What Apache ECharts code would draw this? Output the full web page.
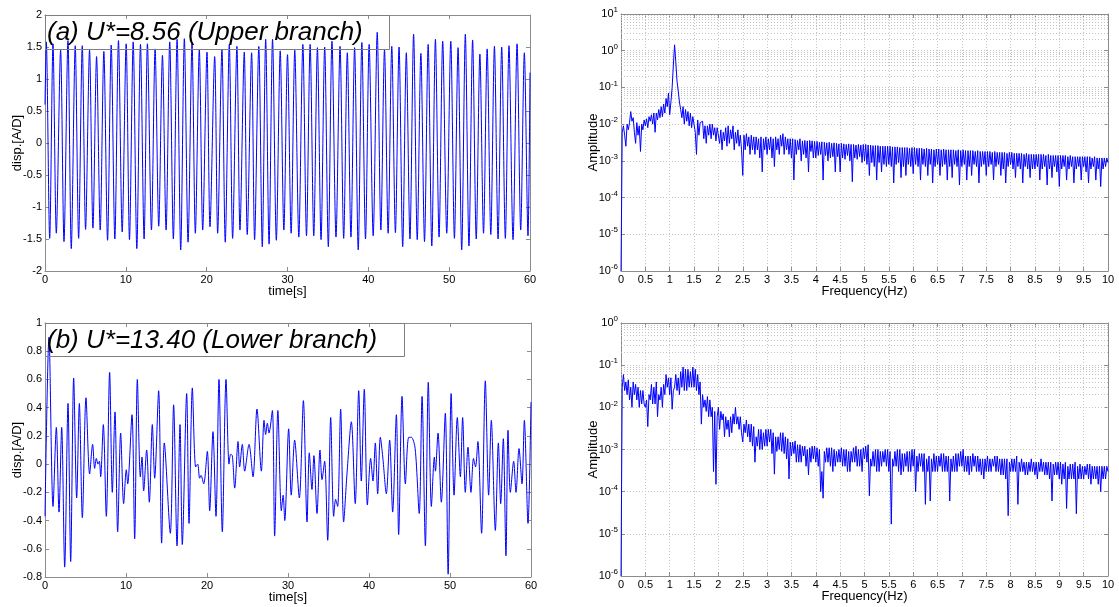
<!DOCTYPE html>
<html>
<head>
<meta charset="utf-8">
<script src="https://cdn.jsdelivr.net/npm/echarts@6/dist/echarts.min.js"></script>
<style>
html,body{margin:0;padding:0;background:#fff;}
#chart{width:1119px;height:607px;}
</style>
</head>
<body>
<div id="chart"></div>
<script>
// ---------- DATA ----------
// (a) U*=8.56 time history: peaks, troughs and the two end samples
const aPeakTime = [0.16,0.99,1.93,2.84,3.74,4.61,5.51,6.38,7.28,8.19,9.09,10.04,10.91,11.81,12.67,13.62,14.53,15.43,16.34,17.24,18.19,19.09,20.04,20.99,21.89,22.80,23.74,24.65,25.56,26.45,27.30,28.15,29.10,30.00,30.90,31.90,32.80,33.70,34.60,35.50,36.50,37.40,38.30,39.20,40.10,41.10,42.00,42.90,43.80,44.70,45.60,46.50,47.40,48.30,49.20,50.20,51.10,52.00,52.90,53.80,54.70,55.60,56.50,57.40,58.40,59.30];
const aPeakDisp = [1.58,1.55,1.45,1.60,1.52,1.52,1.45,1.35,1.43,1.53,1.60,1.55,1.58,1.54,1.55,1.47,1.37,1.58,1.62,1.63,1.55,1.46,1.42,1.35,1.46,1.54,1.51,1.42,1.41,1.51,1.62,1.62,1.44,1.38,1.45,1.54,1.54,1.49,1.50,1.59,1.51,1.41,1.49,1.57,1.54,1.73,1.46,1.51,1.50,1.41,1.70,1.40,1.54,1.62,1.59,1.59,1.49,1.70,1.61,1.39,1.47,1.51,1.50,1.52,1.55,1.41];
const aTroughTime = [0.58,1.40,2.35,3.25,4.16,5.02,5.93,6.83,7.74,8.64,9.55,10.45,11.36,12.26,13.17,14.07,14.98,15.88,16.79,17.70,18.60,19.51,20.41,21.36,22.30,23.21,24.12,25.02,25.93,26.88,27.72,28.62,29.55,30.45,31.40,32.35,33.25,34.15,35.05,36.00,36.95,37.85,38.75,39.65,40.60,41.55,42.45,43.35,44.25,45.15,46.05,46.95,47.85,48.75,49.70,50.65,51.55,52.45,53.35,54.25,55.15,56.05,56.95,57.90,58.85,59.75];
const aTroughDisp = [-1.49,-1.41,-1.54,-1.65,-1.49,-1.35,-1.33,-1.36,-1.52,-1.50,-1.39,-1.51,-1.65,-1.50,-1.36,-1.30,-1.36,-1.50,-1.67,-1.55,-1.41,-1.36,-1.31,-1.41,-1.55,-1.49,-1.36,-1.43,-1.51,-1.62,-1.58,-1.52,-1.36,-1.41,-1.47,-1.45,-1.45,-1.51,-1.62,-1.47,-1.49,-1.47,-1.67,-1.50,-1.45,-1.36,-1.41,-1.40,-1.62,-1.50,-1.51,-1.54,-1.61,-1.47,-1.41,-1.49,-1.67,-1.61,-1.50,-1.41,-1.43,-1.50,-1.49,-1.51,-1.36,-1.45];
const aEdgeTime = [0, 60];
const aEdgeDisp = [0.6, 1.1];

// (b) U*=13.40 time history (turning points)
const bTime = [0,0.49,0.99,1.40,1.73,2.06,2.43,2.84,3.17,3.54,3.91,4.24,4.61,5.06,5.51,5.88,6.13,6.34,6.54,6.71,6.87,7.20,7.57,7.98,8.31,8.64,8.97,9.34,9.71,10.04,10.21,10.74,11.07,11.40,11.77,11.98,12.18,12.55,12.88,13.25,13.54,14.03,14.40,14.73,15.47,15.88,16.30,16.67,16.95,17.49,17.78,18.19,18.60,18.85,19.09,19.26,19.59,20.04,20.33,20.74,21.11,21.48,21.89,22.35,22.72,22.92,23.13,23.42,23.83,24.03,24.36,24.65,25.19,25.68,26.17,26.71,27.04,27.24,27.45,27.65,28.07,28.35,28.75,29.18,29.40,29.60,30.08,30.40,30.82,31.40,31.90,32.35,32.63,32.96,33.20,33.58,33.95,34.20,34.52,34.90,35.27,35.64,35.88,36.13,36.50,36.87,37.28,37.82,38.30,38.73,39.05,39.42,39.80,40.20,40.49,40.78,41.07,41.40,41.70,42.14,42.55,42.92,43.38,43.66,44.08,44.49,44.90,45.23,45.70,46.20,46.55,46.96,47.32,47.70,48.07,48.20,48.52,48.93,49.42,49.77,50.14,50.50,50.90,51.28,51.56,51.89,52.22,52.59,52.90,53.15,53.44,53.90,54.36,54.77,55.10,55.60,55.97,56.26,56.58,56.91,57.16,57.45,57.86,58.15,58.52,58.89,59.18,59.63,60.00];
const bDisp = [-0.37,0.90,-0.30,0.26,-0.34,0.26,-0.73,0.43,-0.69,0.61,-0.24,0.43,-0.38,0.47,-0.07,0.14,-0.03,0.04,0.00,0.02,-0.09,0.28,-0.37,0.65,-0.20,0.37,-0.48,0.22,-0.28,-0.04,-0.14,0.35,-0.53,0.60,-0.09,0.05,-0.19,0.10,-0.27,0.28,-0.10,0.52,-0.56,0.15,-0.49,0.42,-0.58,0.28,-0.57,0.50,-0.42,0.54,-0.02,0.00,-0.10,-0.08,-0.14,0.09,-0.33,0.23,-0.37,0.60,-0.48,0.60,0.00,0.07,0.06,-0.17,0.16,-0.02,0.14,-0.05,0.14,-0.09,0.39,-0.05,0.31,0.21,0.29,0.22,0.38,-0.51,0.38,-0.33,-0.22,-0.40,0.25,-0.22,0.17,-0.24,0.45,-0.41,0.08,-0.18,0.06,-0.35,0.10,-0.11,0.02,-0.54,0.33,-0.37,-0.25,-0.30,0.39,-0.41,-0.07,0.30,-0.28,0.52,-0.12,0.53,-0.29,0.04,-0.12,0.15,-0.21,0.19,0.05,-0.21,0.17,-0.34,0.35,-0.50,0.48,-0.14,0.19,0.19,0.11,-0.35,0.48,-0.58,0.58,-0.30,0.05,-0.05,0.22,-0.27,0.36,-0.78,0.50,-0.22,0.33,-0.09,0.33,-0.20,0.12,-0.20,0.04,-0.02,0.16,-0.49,0.59,-0.22,0.31,-0.47,0.15,-0.28,0.18,-0.65,0.24,-0.20,0.02,-0.20,0.11,-0.14,0.31,-0.42,0.44];

// Amplitude spectra, one value per frequency bin (20 bins per 0.5 Hz row)
const specStepHz = 0.025;
const ampA = [
 1e-6,6e-3,9e-3,5e-3,2.5e-3,1e-2,7e-3,1.1e-2,2.2e-2,1.2e-2,1.5e-2,6e-3,3e-3,1.1e-2,5e-3,9e-3,1.8e-3,1e-2,7e-3,1.3e-2,
 9e-3,1.4e-2,8e-3,1.6e-2,1.2e-2,1.8e-2,1e-2,2e-2,6e-3,2e-2,1.3e-2,2.5e-2,1.5e-2,3e-2,1.6e-2,3.5e-2,2e-2,5e-2,3e-2,7e-2,
 1.8e-2,4e-2,1e-1,4e-1,1.45,5e-1,1.5e-1,8e-2,4e-2,2.5e-2,1.5e-2,3e-2,1e-2,2.5e-2,1.2e-2,2.2e-2,9e-3,2e-2,8e-3,1.6e-2,
 1.5e-2,6e-3,1.5e-3,1.3e-2,5e-3,1.1e-2,1e-2,1.2e-2,4e-3,9e-3,3e-3,9e-3,5e-3,1e-2,4e-3,1e-2,5e-3,8e-3,3.5e-3,8e-3,
 8e-3,3e-3,7e-3,2e-3,6e-3,3.5e-3,8e-3,2.5e-3,9e-3,3e-3,7e-3,4e-3,9e-3,2e-3,6e-3,3e-3,7e-3,2.5e-3,5e-3,2e-3,
 4e-4,5e-3,2e-3,5.5e-3,2.5e-3,4.5e-3,1.5e-3,5e-3,2e-3,4.5e-3,1.5e-3,4.5e-3,2e-3,4e-3,1.2e-3,4.5e-3,5e-4,4e-3,2e-3,4.5e-3,
 1.5e-3,4e-3,2e-3,4.5e-3,1.2e-3,4e-3,7e-4,4.5e-3,2e-3,4e-3,1.5e-3,5e-3,2.5e-3,5.5e-3,1.5e-3,4.5e-3,2e-3,4e-3,1.5e-3,4e-3,
 1.2e-3,4e-3,3e-4,3.8e-3,1.5e-3,3.6e-3,2e-3,4e-3,1e-3,3.5e-3,1.5e-3,3.6e-3,1.2e-3,3.5e-3,5e-4,3.6e-3,1.8e-3,3.5e-3,1.2e-3,3.4e-3,
 1.2e-3,3.4e-3,1.4e-3,3.2e-3,1.5e-3,3.3e-3,3e-4,3.2e-3,1.4e-3,3.1e-3,1e-3,3.2e-3,1.2e-3,3e-3,1.3e-3,3.1e-3,5e-4,3e-3,1.3e-3,2.9e-3,
 5e-4,3e-3,1.2e-3,2.9e-3,1.1e-3,2.8e-3,1.4e-3,2.9e-3,1e-3,2.8e-3,2.7e-4,2.8e-3,1.2e-3,2.7e-3,1.1e-3,2.8e-3,1.3e-3,2.7e-3,9e-4,2.8e-3,
 1e-3,2.8e-3,8e-4,2.7e-3,4e-4,2.7e-3,9e-4,2.6e-3,7e-4,2.6e-3,3e-4,2.6e-3,9e-4,2.5e-3,5e-4,2.5e-3,8e-4,2.5e-3,7e-4,2.5e-3,
 8e-4,2.5e-3,7e-4,2.4e-3,2.5e-4,2.4e-3,8e-4,2.4e-3,9e-4,2.3e-3,3.5e-4,2.3e-3,7e-4,2.3e-3,4e-4,2.3e-3,8e-4,2.2e-3,7e-4,2.3e-3,
 4.5e-4,2.3e-3,8e-4,2.2e-3,7e-4,2.2e-3,3e-4,2.2e-3,8e-4,2.1e-3,7e-4,2.2e-3,4e-4,2.1e-3,8e-4,2.1e-3,2.5e-4,2e-3,7e-4,2.1e-3,
 8e-4,2.1e-3,4e-4,2e-3,7e-4,2.1e-3,8e-4,2e-3,3e-4,2e-3,7e-4,2e-3,3.5e-4,2e-3,8e-4,1.9e-3,7e-4,2e-3,2.2e-4,1.9e-3,
 7e-4,2e-3,8e-4,1.9e-3,3e-4,1.9e-3,7e-4,1.9e-3,4e-4,1.9e-3,8e-4,1.8e-3,7e-4,1.9e-3,2.5e-4,1.8e-3,7e-4,1.8e-3,8e-4,1.8e-3,
 4e-4,1.8e-3,7e-4,1.8e-3,8e-4,1.7e-3,3e-4,1.8e-3,7e-4,1.7e-3,8e-4,1.7e-3,4e-4,1.7e-3,6e-4,1.7e-3,2.5e-4,1.6e-3,7e-4,1.7e-3,
 8e-4,1.7e-3,6e-4,1.6e-3,3.5e-4,1.6e-3,7e-4,1.6e-3,6e-4,1.6e-3,2.5e-4,1.5e-3,7e-4,1.6e-3,6e-4,1.5e-3,3.5e-4,1.5e-3,6e-4,1.5e-3,
 6e-4,1.5e-3,7e-4,1.5e-3,3e-4,1.5e-3,6e-4,1.5e-3,7e-4,1.4e-3,2.2e-4,1.5e-3,6e-4,1.4e-3,3.5e-4,1.4e-3,7e-4,1.4e-3,5e-4,1.4e-3,
 2e-4,1.4e-3,6e-4,1.4e-3,7e-4,1.4e-3,3e-4,1.3e-3,6e-4,1.4e-3,7e-4,1.3e-3,2.5e-4,1.3e-3,6e-4,1.3e-3,7e-4,1.3e-3,3e-4,1.3e-3,
 7e-4,1.3e-3,5e-4,1.3e-3,2.5e-4,1.3e-3,6e-4,1.2e-3,7e-4,1.3e-3,3e-4,1.2e-3,6e-4,1.2e-3,2e-4,1.2e-3,6e-4,1.2e-3,7e-4,1.2e-3,
 9e-4
];
const ampB = [
 1e-6,3e-2,6e-2,2.5e-2,4e-2,2e-2,4.5e-2,1.5e-2,3e-2,1e-2,4e-2,2e-2,3.5e-2,1.5e-2,3e-2,1e-2,2.5e-2,1.2e-2,2.5e-2,1.2e-2,
 1e-2,1.5e-2,3.5e-3,2e-2,1.5e-2,3.5e-2,1.2e-2,3e-2,1.2e-2,4e-2,6e-3,2e-2,1.5e-2,3e-2,1e-2,3.5e-2,2e-2,6e-2,3e-2,5e-2,
 2e-2,5e-2,9e-3,2.5e-2,3e-2,6e-2,2.5e-2,5e-2,2e-2,7e-2,3e-2,9e-2,2.5e-2,8e-2,2.5e-2,8e-2,3e-2,7e-2,3e-2,9e-2,
 3e-2,8e-2,2.5e-2,6e-2,2e-2,4e-2,4e-3,2e-2,1e-2,1.5e-2,8e-3,1.8e-2,6e-3,1.5e-2,6e-3,1e-2,3e-4,8e-3,1.5e-4,6e-3,
 1e-2,3e-3,8e-3,5e-3,7e-3,2e-3,6e-3,3e-3,5e-3,2e-3,6e-3,2.5e-3,7e-3,4e-3,1e-2,4e-3,6e-3,3e-3,6e-3,2.5e-3,
 1.5e-3,4e-3,2.5e-3,5e-3,2e-3,4e-3,1.5e-3,4e-3,1.2e-3,3.5e-3,5e-4,2e-3,1.2e-3,3e-3,1e-3,3e-3,1e-3,2.5e-3,1.2e-3,3e-3,
 1.2e-3,3e-3,1.5e-3,3e-3,8e-4,2.5e-3,2.6e-4,2e-3,9e-4,2e-3,1e-3,2.5e-3,9e-4,2.5e-3,8e-4,2e-3,6e-4,1.8e-3,2e-4,1.5e-3,
 7e-4,1.5e-3,8e-4,1.6e-3,5e-4,1.3e-3,5e-4,1.3e-3,5e-4,1.2e-3,7e-4,1.2e-3,4e-4,1e-3,2.5e-4,1.1e-3,5e-4,1.2e-3,6e-4,1.2e-3,
 5e-4,1.1e-3,4e-4,1e-3,1e-4,3e-4,7e-5,9e-4,5e-4,1.1e-3,5e-4,1.1e-3,4e-4,1.1e-3,3e-4,1e-3,4e-4,9e-4,5e-4,1e-3,
 5e-4,1.1e-3,4e-4,1e-3,4e-4,1e-3,3e-4,9e-4,3e-4,9e-4,5e-4,1.1e-3,5e-4,1.2e-3,4e-4,1e-3,4e-4,1e-3,3e-4,1.1e-3,
 6e-4,1.2e-3,5e-4,1.3e-3,8e-5,6e-4,4e-4,9e-4,4e-4,1e-3,3e-4,1e-3,3e-4,9e-4,4e-4,9e-4,5e-4,1e-3,4e-4,1e-3,
 3e-4,9e-4,1.7e-5,6e-4,4e-4,9e-4,4e-4,1e-3,3e-4,1e-3,2.5e-4,8e-4,3e-4,8e-4,4e-4,9e-4,3e-4,9e-4,3e-4,1e-3,
 4e-4,1e-3,1e-4,7e-4,3e-4,8e-4,4e-4,8e-4,3e-4,8e-4,5e-5,6e-4,3e-4,7e-4,6e-5,6e-4,3e-4,8e-4,3e-4,7e-4,
 3e-4,7e-4,4e-4,8e-4,3e-4,8e-4,3e-4,7e-4,3e-4,7e-4,6e-5,6e-4,3e-4,7e-4,3e-4,8e-4,3e-4,8e-4,4e-4,9e-4,
 4e-4,1e-3,3e-4,7e-4,3e-4,7e-4,2.5e-4,7e-4,3e-4,8e-4,4e-4,7e-4,3e-4,7e-4,3e-4,6e-4,2.5e-4,6e-4,2e-4,6e-4,
 3e-4,7e-4,3e-4,6e-4,3e-4,6e-4,4e-4,7e-4,3e-4,7e-4,3e-4,6e-4,2.5e-4,6e-4,2.5e-4,6e-4,2e-4,6e-4,2.7e-5,5e-4,
 3e-4,6e-4,3e-4,6e-4,3e-4,7e-4,5e-5,5e-4,3e-4,6e-4,3e-4,5e-4,2.5e-4,5e-4,2.5e-4,5e-4,3e-4,6e-4,3e-4,5e-4,
 2.5e-4,5e-4,2e-4,5e-4,3e-4,6e-4,3e-4,5e-4,2.5e-4,5e-4,2.5e-4,5e-4,2e-4,5e-4,6e-5,4.5e-4,2.5e-4,5e-4,2.5e-4,5e-4,
 2e-4,5e-4,1.5e-4,4.5e-4,2e-4,5e-4,4e-5,4e-4,2e-4,4.5e-4,2e-4,4.5e-4,2e-4,5e-4,3e-5,4e-4,2e-4,4.5e-4,2e-4,4e-4,
 2e-4,4e-4,2.5e-4,4.5e-4,2e-4,4.5e-4,1.5e-4,4e-4,2e-4,4e-4,2e-4,4e-4,1.5e-4,4e-4,1e-4,4e-4,2e-4,4e-4,2e-4,4e-4,
 3e-4
];

// Axis ranges / ticks
const timeRange = [0, 60], timeTick = 10;
const dispRangeA = [-2, 2], dispTickA = 0.5;
const dispRangeB = [-0.8, 1], dispTickB = 0.2;
const freqRange = [0, 10], freqTick = 0.5;
const ampRangeA = [1e-6, 10];
const ampRangeB = [1e-6, 1];

// ---------- CHART ----------
const FONT = '"Liberation Sans", Arial, sans-serif';
const AXC = '#8c8c8c';
const GRIDC = '#c4c4c4';
const BLUE = '#0000ff';

const aPts = aPeakTime.map((t, i) => [t, aPeakDisp[i]])
  .concat(aTroughTime.map((t, i) => [t, aTroughDisp[i]]))
  .concat(aEdgeTime.map((t, i) => [t, aEdgeDisp[i]]))
  .sort((p, q) => p[0] - q[0]);
const bPts = bTime.map((t, i) => [t, bDisp[i]]);
const specA = ampA.map((v, i) => [+(i * specStepHz).toFixed(3), v]);
const specB = ampB.map((v, i) => [+(i * specStepHz).toFixed(3), v]);

function minorLogValues(lo, hi) {
  const out = [];
  for (let e = Math.round(Math.log10(lo)); e < Math.round(Math.log10(hi)); e++) {
    for (let m = 2; m <= 9; m++) out.push(m * Math.pow(10, e));
  }
  return out;
}

const grids = [
  {left: 45, top: 15, width: 485, height: 256},
  {left: 621, top: 14, width: 487, height: 257},
  {left: 45, top: 323, width: 486, height: 254},
  {left: 621, top: 323, width: 487, height: 253}
];

const labelStyle = {color: '#000', fontSize: 11, fontFamily: FONT};
const nameStyle = {color: '#000', fontSize: 13, fontFamily: FONT};
const dotted = {color: GRIDC, type: [1, 2], width: 1};

function xPair(gi, range, interval, name, grid) {
  const base = {
    gridIndex: gi, type: 'value', min: range[0], max: range[1], interval: interval,
    axisLine: {show: true, onZero: false, lineStyle: {color: AXC, width: 1}},
    axisTick: {show: true, inside: true, length: 4, lineStyle: {color: AXC}},
  };
  return [
    Object.assign({}, base, {
      position: 'bottom', name: name, nameLocation: 'middle', nameGap: 14, nameMoveOverlap: false,
      nameTextStyle: nameStyle,
      axisLabel: Object.assign({margin: 3}, labelStyle),
      splitLine: {show: grid, lineStyle: dotted}
    }),
    Object.assign({}, base, {position: 'top', axisLabel: {show: false}, splitLine: {show: false}})
  ];
}
function yLinPair(gi, range, interval, name) {
  const base = {
    gridIndex: gi, type: 'value', min: range[0], max: range[1], interval: interval,
    axisLine: {show: true, onZero: false, lineStyle: {color: AXC, width: 1}},
    axisTick: {show: true, inside: true, length: 4, lineStyle: {color: AXC}},
    splitLine: {show: false}
  };
  return [
    Object.assign({}, base, {
      position: 'left', name: name, nameLocation: 'middle', nameGap: 21, nameMoveOverlap: false,
      nameTextStyle: nameStyle, axisLabel: Object.assign({margin: 3}, labelStyle)
    }),
    Object.assign({}, base, {position: 'right', axisLabel: {show: false}})
  ];
}
function yLogPair(gi, range, name) {
  const decades = Math.round(Math.log10(range[1]) - Math.log10(range[0]));
  const base = {
    gridIndex: gi, type: 'log', logBase: 10, min: range[0], max: range[1], splitNumber: decades,
    axisLine: {show: true, onZero: false, lineStyle: {color: AXC, width: 1}},
    axisTick: {show: true, inside: true, length: 4, lineStyle: {color: AXC}}
  };
  return [
    Object.assign({}, base, {
      position: 'left', name: name, nameLocation: 'middle', nameGap: 21, nameMoveOverlap: false,
      nameTextStyle: nameStyle,
      splitLine: {show: true, lineStyle: dotted},
      axisLabel: Object.assign({
        margin: 3, lineHeight: 16,
        formatter: v => '10{e|' + Math.round(Math.log10(v)) + '}',
        rich: {e: {fontSize: 8, fontFamily: FONT, color: '#000', verticalAlign: 'top', lineHeight: 9}}
      }, labelStyle)
    }),
    Object.assign({}, base, {position: 'right', axisLabel: {show: false}, splitLine: {show: false}})
  ];
}

const xAxes = [].concat(
  xPair(0, timeRange, timeTick, 'time[s]', false),
  xPair(1, freqRange, freqTick, 'Frequency(Hz)', true),
  xPair(2, timeRange, timeTick, 'time[s]', false),
  xPair(3, freqRange, freqTick, 'Frequency(Hz)', true)
);
const yAxes = [].concat(
  yLinPair(0, dispRangeA, dispTickA, 'disp.[A/D]'),
  yLogPair(1, ampRangeA, 'Amplitude'),
  yLinPair(2, dispRangeB, dispTickB, 'disp.[A/D]'),
  yLogPair(3, ampRangeB, 'Amplitude')
);

function minorGridSeries(axisIdx, range) {
  return {
    type: 'line', xAxisIndex: axisIdx, yAxisIndex: axisIdx, data: [], z: 1, silent: true,
    markLine: {
      silent: true, symbol: ['none', 'none'], label: {show: false}, animation: false,
      lineStyle: {color: GRIDC, type: [1, 2], width: 1},
      data: minorLogValues(range[0], range[1]).map(v => ({yAxis: v}))
    }
  };
}
function dataSeries(axisIdx, pts, smooth) {
  return {
    type: 'line', xAxisIndex: axisIdx, yAxisIndex: axisIdx, data: pts, z: 5,
    showSymbol: false, symbol: 'none', smooth: smooth, silent: true,
    lineStyle: {color: BLUE, width: 1}
  };
}

const chart = echarts.init(document.getElementById('chart'), null, {renderer: 'canvas'});
chart.setOption({
  animation: false,
  backgroundColor: '#fff',
  grid: grids,
  xAxis: xAxes,
  yAxis: yAxes,
  series: [
    minorGridSeries(2, ampRangeA),
    minorGridSeries(6, ampRangeB),
    dataSeries(0, aPts, 0.3),
    dataSeries(2, specA, false),
    dataSeries(4, bPts, 0.3),
    dataSeries(6, specB, false)
  ],
  graphic: [
    {type: 'rect', z: 10, shape: {x: 45.5, y: 15.5, width: 344, height: 34}, style: {fill: 'none', stroke: '#7f7f7f', lineWidth: 1}},
    {type: 'text', z: 11, x: 47, y: 33, style: {text: '(a) U*=8.56 (Upper branch)', font: 'italic 26px "Liberation Sans", Arial, sans-serif', fill: '#000', verticalAlign: 'middle', textVerticalAlign: 'middle'}},
    {type: 'rect', z: 10, shape: {x: 45.5, y: 323.5, width: 359, height: 33}, style: {fill: 'none', stroke: '#7f7f7f', lineWidth: 1}},
    {type: 'text', z: 11, x: 47, y: 341, style: {text: '(b) U*=13.40 (Lower branch)', font: 'italic 26px "Liberation Sans", Arial, sans-serif', fill: '#000', verticalAlign: 'middle', textVerticalAlign: 'middle'}}
  ]
});
</script>
</body>
</html>
